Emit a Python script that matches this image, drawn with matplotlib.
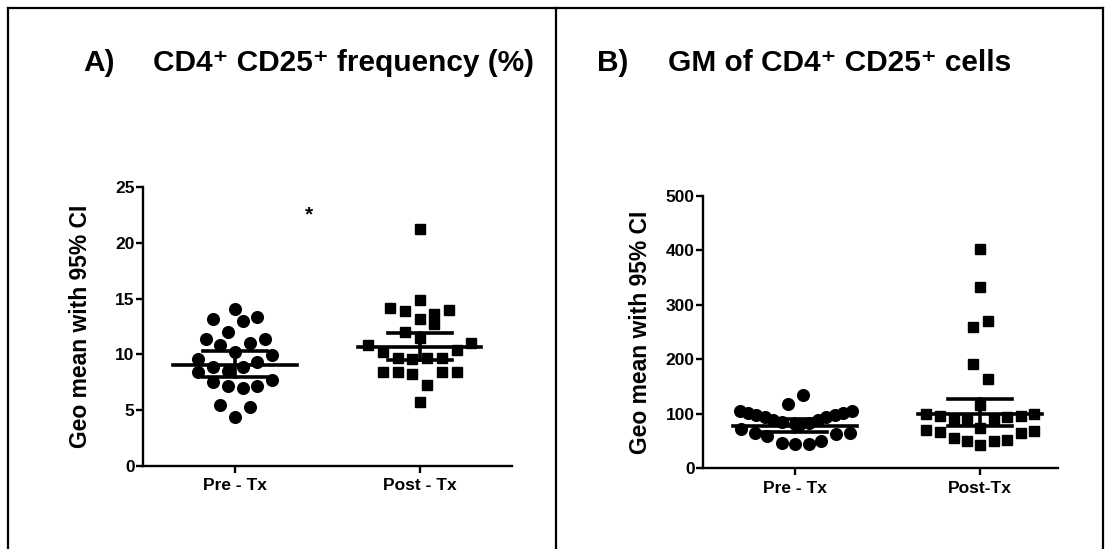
import matplotlib.pyplot as plt
from matplotlib.lines import Line2D

plt.rcParams['font.family'] = ['Liberation Sans', 'DejaVu Sans']
plt.rcParams['font.weight'] = 'bold'

# Panel A: CD4+ CD25+ frequency (%)
a_labels = ['Pre - Tx', 'Post - Tx']
a_pre = [14.1, 13.2, 13.0, 13.35, 12.0, 11.4, 11.4, 10.85, 11.0, 10.25, 9.6, 9.95, 8.9,
         8.9, 9.3, 8.45, 8.5, 7.55, 7.15, 6.95, 7.2, 7.7, 5.45, 5.25, 4.4]
a_pre_slot = [0, -3, 1, 3, -1, -4, 4, -2, 2, 0, -5, 5, -3,
              1, 3, -5, -1, -3, -1, 1, 3, 5, -2, 2, 0]
a_post = [21.2, 14.9, 14.15, 13.85, 13.95, 13.15, 13.65, 12.75, 12.05, 11.45, 10.8, 11.0, 10.25,
          10.4, 9.65, 9.6, 9.65, 9.7, 8.4, 8.4, 8.25, 8.4, 8.4, 7.25, 5.75]
a_post_slot = [0, 0, -4, -2, 4, 0, 2, 2, -2, 0, -7, 7, -5,
               5, -3, -1, 1, 3, -5, -3, -1, 3, 5, 1, 0]
a_mean = [9.05, 10.7]
a_lo = [8.0, 9.5]
a_hi = [10.3, 11.95]

# Panel B: GM of CD4+ CD25+ cells
b_labels = ['Pre - Tx', 'Post-Tx']
b_pre = [134, 117, 104, 102, 97, 93, 88, 94, 97, 102, 104, 71, 64,
         58, 46, 45, 45, 50, 62, 65, 84, 81, 83, 88, 79]
b_pre_slot = [1, -1, -7.5, -6.4, -5.3, -4.1, -3, 4.2, 5.4, 6.5, 7.7, -7.3, -5.5,
              -3.8, -1.8, 0, 1.8, 3.5, 5.5, 7.4, -1.8, 0, 1.8, 3, 0.5]
b_post = [403, 333, 270, 259, 191, 163, 116, 99, 96, 91, 91, 91, 94,
          96, 100, 70, 67, 56, 50, 42, 50, 51.5, 65, 68.6, 73]
b_post_slot = [0, 0, 1, -1, -1, 1, 0, -7.4, -5.4, -3.5, -1.8, 1.9, 3.6,
               5.5, 7.3, -7.4, -5.4, -3.5, -1.8, 0, 1.9, 3.6, 5.5, 7.3, 0]
b_mean = [77, 99]
b_lo = [67, 77]
b_hi = [91, 127]

STEP = 0.04  # horizontal spacing of one slot, in category units


def draw_panel(ax, labels, pre, pre_slot, post, post_slot, mean, lo, hi, ymax, ystep, xmax, pad):
    ax.plot([i * STEP for i in pre_slot], pre, 'o', color='black', markersize=8.4, zorder=3)
    ax.plot([1 + i * STEP for i in post_slot], post, 's', color='black', markersize=7.8, zorder=3)
    for k in range(2):
        ax.plot([k - 0.335, k + 0.335], [mean[k], mean[k]], color='black', lw=2.6, zorder=4)
        ax.plot([k - 0.173, k + 0.173], [lo[k], lo[k]], color='black', lw=2.6, zorder=4)
        ax.plot([k - 0.173, k + 0.173], [hi[k], hi[k]], color='black', lw=2.6, zorder=4)
        ax.plot([k, k], [lo[k], hi[k]], color='black', lw=2.6, zorder=4)
    ax.set_xlim(-0.5, xmax)
    ax.set_ylim(0, ymax)
    ax.set_yticks(range(0, ymax + 1, ystep))
    ax.set_xticks([0, 1])
    ax.set_xticklabels(labels)
    for s in ['top', 'right']:
        ax.spines[s].set_visible(False)
    for s in ['left', 'bottom']:
        ax.spines[s].set_linewidth(1.7)
    ax.tick_params(axis='both', width=1.7, length=5, labelsize=12.5, pad=1)
    ax.tick_params(axis='x', pad=4)
    ax.set_ylabel('Geo mean with 95% CI', fontsize=16.5, fontweight='bold', labelpad=pad)
    for t in ax.get_xticklabels() + ax.get_yticklabels():
        t.set_fontweight('bold')


fig = plt.figure(figsize=(11.1, 5.49), dpi=100)

ax1 = fig.add_axes([0.1288, 0.1512, 0.3324, 0.5082])
draw_panel(ax1, a_labels, a_pre, a_pre_slot, a_post, a_post_slot, a_mean, a_lo, a_hi, 25, 5, 1.5, 17)
ax1.text(0.4, 22.5, '*', ha='center', va='center', fontsize=15, fontweight='bold')

ax2 = fig.add_axes([0.6333, 0.1475, 0.3198, 0.4954])
draw_panel(ax2, b_labels, b_pre, b_pre_slot, b_post, b_post_slot, b_mean, b_lo, b_hi, 500, 100, 1.42, 10)

# titles
ty = 1 - 63 / 549
fig.text(83 / 1110, ty, 'A)', fontsize=21.5, fontweight='bold', va='center')
fig.text(153 / 1110, ty, 'CD4\u207a CD25\u207a frequency (%)', fontsize=21.5, fontweight='bold', va='center')
fig.text(597 / 1110, ty, 'B)', fontsize=21.5, fontweight='bold', va='center')
fig.text(668 / 1110, ty, 'GM of CD4\u207a CD25\u207a cells', fontsize=21.5, fontweight='bold', va='center')

# frame around the two panels
frame_kw = dict(color='black', lw=1.6, transform=fig.transFigure)
fig.add_artist(Line2D([8 / 1110, 1103 / 1110], [1 - 8 / 549, 1 - 8 / 549], **frame_kw))
fig.add_artist(Line2D([8 / 1110, 8 / 1110], [0, 1 - 8 / 549], **frame_kw))
fig.add_artist(Line2D([556 / 1110, 556 / 1110], [0, 1 - 8 / 549], **frame_kw))
fig.add_artist(Line2D([1103 / 1110, 1103 / 1110], [0, 1 - 8 / 549], **frame_kw))

fig.savefig('out.png', dpi=100)
